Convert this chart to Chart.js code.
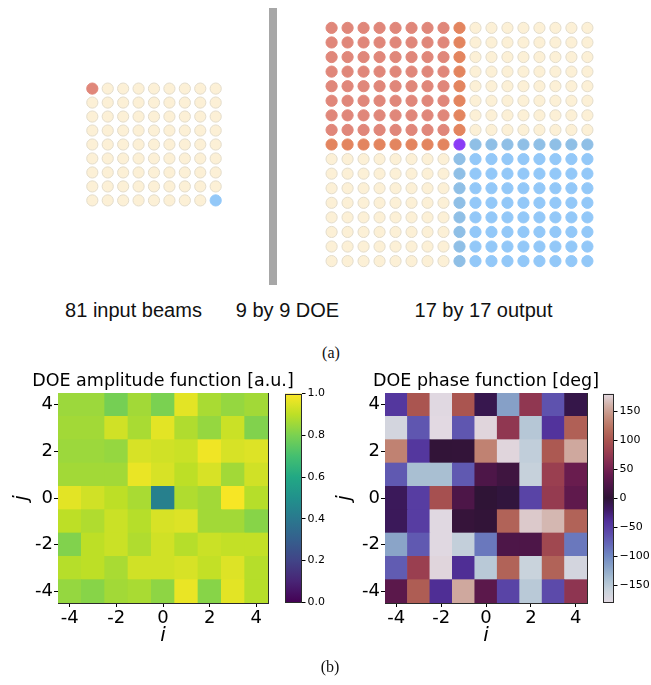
<!DOCTYPE html>
<html>
<head>
<meta charset="utf-8">
<script src="https://cdn.jsdelivr.net/npm/chart.js@4.4.1/dist/chart.umd.min.js"></script>
<style>
  html, body { margin: 0; padding: 0; background: #fff; }
  #fig { position: relative; width: 651px; height: 685px; overflow: hidden; background: #fff; }
  #fig canvas { position: absolute; }
  .lbl { position: absolute; font-family: 'Liberation Sans', Arial, sans-serif; font-size: 20px; line-height: 20px;
         color: #111; white-space: nowrap; transform: translateX(-50%); }
  .cap { position: absolute; font-family: 'Liberation Serif', 'Times New Roman', serif; font-size: 16px; line-height: 16px;
         color: #111; white-space: nowrap; transform: translateX(-50%); }
  .doe { position: absolute; left: 269px; top: 8px; width: 8px; height: 277px; background: #a7a7a7; }
</style>
</head>
<body>
<div id="fig">
  <canvas id="gridIn" width="152" height="139" style="left:78px;top:75px"></canvas>
  <div class="doe"></div>
  <canvas id="gridOut" width="285" height="261" style="left:317px;top:14px"></canvas>
  <div class="lbl" style="left:133.5px;top:300px">81 input beams</div>
  <div class="lbl" style="left:287.5px;top:300px">9 by 9 DOE</div>
  <div class="lbl" style="left:483.5px;top:300px">17 by 17 output</div>
  <div class="cap" style="left:331px;top:345px">(a)</div>

  <canvas id="ampMap" width="326" height="283" style="left:0px;top:365px"></canvas>
  <canvas id="ampBar" width="57" height="226" style="left:285px;top:385px"></canvas>
  <canvas id="phaseMap" width="318" height="283" style="left:327px;top:365px"></canvas>
  <canvas id="phaseBar" width="51" height="226" style="left:603px;top:385px"></canvas>
  <div class="cap" style="left:330px;top:659px">(b)</div>
</div>

<script>
// ---- beam grids: one letter per beam ----
// C = unused spot, R = red input copies, O = red edge copies, B = blue copies,
// E = blue edge copies, P = overlap of both
const INPUT_GRID = [
  'RCCCCCCCC',
  'CCCCCCCCC',
  'CCCCCCCCC',
  'CCCCCCCCC',
  'CCCCCCCCC',
  'CCCCCCCCC',
  'CCCCCCCCC',
  'CCCCCCCCC',
  'CCCCCCCCB'
];
const OUTPUT_GRID = [
  'RRRRRRRROCCCCCCCC',
  'RRRRRRRROCCCCCCCC',
  'RRRRRRRROCCCCCCCC',
  'RRRRRRRROCCCCCCCC',
  'RRRRRRRROCCCCCCCC',
  'RRRRRRRROCCCCCCCC',
  'RRRRRRRROCCCCCCCC',
  'RRRRRRRROCCCCCCCC',
  'OOOOOOOOPEEEEEEEE',
  'CCCCCCCCEBBBBBBBB',
  'CCCCCCCCEBBBBBBBB',
  'CCCCCCCCEBBBBBBBB',
  'CCCCCCCCEBBBBBBBB',
  'CCCCCCCCEBBBBBBBB',
  'CCCCCCCCEBBBBBBBB',
  'CCCCCCCCEBBBBBBBB',
  'CCCCCCCCEBBBBBBBB'
];
const BEAM_FILL   = { C: '#fcf0d6', R: '#e0877a', O: '#e3855f', B: '#93c8f8', E: '#8fbfe6', P: '#8a3cf6' };
const BEAM_BORDER = { C: '#e3dccb', R: '#e0877a', O: '#e3855f', B: '#93c8f8', E: '#8fbfe6', P: '#8a3cf6' };

// ---- DOE maps: rows from j = 4 (top) down to j = -4, columns i = -4 .. 4 ----
const I_VALUES = [-4, -3, -2, -1, 0, 1, 2, 3, 4];
const J_VALUES = [4, 3, 2, 1, 0, -1, -2, -3, -4];
const AXIS_TICKS = [-4, -2, 0, 2, 4];

const AMPLITUDE = [
  [0.85, 0.85, 0.79, 0.86, 0.80, 0.96, 0.87, 0.84, 0.86],
  [0.86, 0.86, 0.93, 0.87, 0.96, 0.88, 0.84, 0.92, 0.81],
  [0.85, 0.85, 0.84, 0.94, 0.93, 0.92, 0.98, 0.94, 0.95],
  [0.86, 0.86, 0.86, 0.97, 0.94, 0.90, 0.94, 0.86, 0.93],
  [0.96, 0.93, 0.90, 0.87, 0.43, 0.88, 0.86, 0.99, 0.89],
  [0.90, 0.88, 0.92, 0.89, 0.94, 0.95, 0.86, 0.86, 0.82],
  [0.81, 0.90, 0.92, 0.88, 0.93, 0.89, 0.92, 0.91, 0.91],
  [0.89, 0.90, 0.87, 0.93, 0.93, 0.94, 0.91, 0.95, 0.89],
  [0.84, 0.82, 0.86, 0.87, 0.83, 0.97, 0.82, 0.96, 0.89]
];
const PHASE = [
  [ -45,  100, -178,  100,  -10, -117,   72,  -65,   -8],
  [-168,  -68,  180,  -68,  178,   72, -148,  -42,  108],
  [ 132,  -45,    2,    3,  132,  178, -155,  103,  155],
  [ -70, -140, -140,  -70,   22,   12, -158,   80,   42],
  [ -15,  -50,   95,   22,    0,   -3,  -55,   76,   35],
  [ -15,  -50, -178,    5,    2,  110,  172,  163,  110],
  [-120,  -70, -178, -156,  -90,   22,   22,   88,  -90],
  [ -72,   80,  178,  -38, -150,  110, -160,  110, -168],
  [  32,  106,  -38,  155,   32,  -55, -150,  -60,   70]
];
const AMP_RANGE = [0, 1];
const PHASE_RANGE = [-180, 180];
const AMP_CB_TICKS = [0, 0.2, 0.4, 0.6, 0.8, 1.0];
const PHASE_CB_TICKS = [-150, -100, -50, 0, 50, 100, 150];

// ---- colour maps (evenly spaced stops across each range) ----
const VIRIDIS = ['#440154', '#482475', '#414487', '#355f8d', '#2a788e', '#21918c',
                 '#22a884', '#44bf70', '#7ad151', '#bddf26', '#fde725'];
// cyclic map, one stop every 20 degrees from -180 to 180
const TWILIGHT = ['#e2d9e2', '#c9d3dc', '#a9bfd2', '#8aa4c8', '#7088c2', '#6468b8', '#5c4aaa',
                  '#51309a', '#3f1a66', '#2f1436', '#4a1547', '#661a4e', '#822b52', '#9a3f50',
                  '#aa5550', '#b8705f', '#c58e7e', '#d2b1a8', '#e2d9e2'];

function hexToRgb(h) {
  const n = parseInt(h.slice(1), 16);
  return [(n >> 16) & 255, (n >> 8) & 255, n & 255];
}
function makeCmap(stops, lo, hi) {
  const rgb = stops.map(hexToRgb);
  return v => {
    let t = (v - lo) / (hi - lo);
    t = Math.max(0, Math.min(1, t)) * (rgb.length - 1);
    const k = Math.min(rgb.length - 2, Math.floor(t));
    const f = t - k;
    const c = rgb[k].map((a, m) => Math.round(a + (rgb[k + 1][m] - a) * f));
    return `rgb(${c[0]},${c[1]},${c[2]})`;
  };
}

Chart.defaults.font.family = "'DejaVu Sans', sans-serif";
Chart.defaults.color = '#000';

// ---- beam grid scatter charts ----
function beamChart(id, grid) {
  const n = grid.length;
  const pts = [], fills = [], borders = [];
  grid.forEach((row, r) => [...row].forEach((ch, c) => {
    pts.push({ x: c, y: r });
    fills.push(BEAM_FILL[ch]);
    borders.push(BEAM_BORDER[ch]);
  }));
  new Chart(document.getElementById(id), {
    type: 'scatter',
    data: { datasets: [{ data: pts, backgroundColor: fills, borderColor: borders,
                         pointRadius: 5.6, borderWidth: 1, pointStyle: 'circle' }] },
    options: {
      responsive: false, animation: false, events: [], devicePixelRatio: 1,
      layout: { padding: 0 },
      plugins: { legend: { display: false }, tooltip: { enabled: false } },
      scales: {
        x: { type: 'linear', display: false, min: -0.5, max: n - 0.5 },
        y: { type: 'linear', display: false, min: -0.5, max: n - 0.5, reverse: true }
      }
    }
  });
}
beamChart('gridIn', INPUT_GRID);
beamChart('gridOut', OUTPUT_GRID);

// ---- heat maps drawn as floating bars on linear axes ----
function setTicks(values) {
  return s => { s.ticks = values.map(v => ({ value: v })); };
}
function heatChart(id, title, values, cmap, yTitlePad) {
  const cells = [], colors = [];
  values.forEach((row, r) => row.forEach((v, c) => {
    cells.push({ x: I_VALUES[c], y: [J_VALUES[r] - 0.5, J_VALUES[r] + 0.5] });
    colors.push(cmap(v));
  }));
  const frame = '#2b2b2b';
  const tickFont = { family: "'DejaVu Sans', sans-serif", size: 18 };
  const labFont = { family: "'DejaVu Sans', sans-serif", size: 20, style: 'italic' };
  new Chart(document.getElementById(id), {
    type: 'bar',
    data: { datasets: [{ data: cells, backgroundColor: colors, borderWidth: 0,
                         barPercentage: 1, categoryPercentage: 1 }] },
    options: {
      responsive: false, animation: false, events: [], devicePixelRatio: 1,
      layout: { padding: 0 },
      plugins: {
        legend: { display: false }, tooltip: { enabled: false },
        title: { display: true, text: title, color: '#000',
                 font: { family: "'DejaVu Sans', sans-serif", size: 17.5, weight: 'normal' },
                 padding: { top: 6, bottom: 0 } }
      },
      scales: {
        x: {
          type: 'linear', position: 'bottom', min: -4.5, max: 4.5, offset: false,
          afterBuildTicks: setTicks(AXIS_TICKS),
          afterFit: s => { s.height = 45; },
          ticks: { font: tickFont, color: '#000', padding: 1, maxRotation: 0, autoSkip: false },
          grid: { drawOnChartArea: false, drawTicks: true, tickLength: 4, tickColor: '#000', offset: false },
          border: { display: true, color: frame, width: 1 },
          title: { display: true, text: 'i', font: labFont, color: '#000', padding: { top: 0, bottom: 0 } }
        },
        y: {
          type: 'linear', position: 'left', min: -4.5, max: 4.5,
          afterBuildTicks: setTicks(AXIS_TICKS),
          afterFit: s => { s.width = 58; },
          ticks: { font: tickFont, color: '#000', padding: 1, autoSkip: false },
          grid: { drawOnChartArea: false, drawTicks: true, tickLength: 4, tickColor: '#000' },
          border: { display: true, color: frame, width: 1 },
          title: { display: true, text: 'j', font: labFont, color: '#000', padding: { top: yTitlePad, bottom: 0 } }
        },
        xTop: {
          type: 'linear', position: 'top', min: -4.5, max: 4.5,
          afterFit: s => { s.height = 1; },
          ticks: { display: false }, grid: { display: false, drawTicks: false },
          border: { display: true, color: frame, width: 1 }
        },
        yRight: {
          type: 'linear', position: 'right', min: -4.5, max: 4.5,
          afterFit: s => { s.width = 58; },
          ticks: { display: false }, grid: { display: false, drawTicks: false },
          border: { display: true, color: frame, width: 1 }
        }
      }
    }
  });
}

// ---- colour bars: gradient painted along the bar's own value axis ----
function colorBar(id, stops, range, ticks, fmt, fontFamily) {
  new Chart(document.getElementById(id), {
    type: 'scatter',
    data: { datasets: [] },
    options: {
      responsive: false, animation: false, events: [], devicePixelRatio: 1,
      layout: { padding: { top: 8, bottom: 8, left: 0, right: 0 } },
      plugins: { legend: { display: false }, tooltip: { enabled: false } },
      scales: {
        x: { type: 'linear', display: false, min: 0, max: 1 },
        y: {
          type: 'linear', position: 'right', min: range[0], max: range[1],
          afterBuildTicks: setTicks(ticks),
          afterFit: s => { s.width = 40; },
          ticks: { font: { family: fontFamily, size: 11 }, color: '#000', padding: 2, callback: fmt },
          grid: { drawOnChartArea: false, drawTicks: true, tickLength: 3.5, tickColor: '#000' },
          border: { display: false }
        }
      }
    },
    plugins: [{
      id: 'gradientBar',
      beforeDatasetsDraw(chart) {
        const { ctx, chartArea: a, scales: { y } } = chart;
        const g = ctx.createLinearGradient(0, y.getPixelForValue(range[0]), 0, y.getPixelForValue(range[1]));
        stops.forEach((c, k) => g.addColorStop(k / (stops.length - 1), c));
        ctx.save();
        ctx.fillStyle = g;
        ctx.fillRect(a.left, a.top, a.right - a.left, a.bottom - a.top);
        ctx.restore();
      },
      afterDraw(chart) {
        const { ctx, chartArea: a } = chart;
        ctx.save();
        ctx.strokeStyle = '#2b2b2b';
        ctx.lineWidth = 1;
        ctx.strokeRect(Math.round(a.left) + 0.5, Math.round(a.top) + 0.5,
                       Math.round(a.right - a.left) - 1, Math.round(a.bottom - a.top) - 1);
        ctx.restore();
      }
    }]
  });
}

const viridis = makeCmap(VIRIDIS, AMP_RANGE[0], AMP_RANGE[1]);
const twilight = makeCmap(TWILIGHT, PHASE_RANGE[0], PHASE_RANGE[1]);

heatChart('ampMap', 'DOE amplitude function [a.u.]', AMPLITUDE, viridis, 10);
heatChart('phaseMap', 'DOE phase function [deg]', PHASE, twilight, 6);
colorBar('ampBar', VIRIDIS, AMP_RANGE, AMP_CB_TICKS, v => v.toFixed(1), "'DejaVu Sans', sans-serif");
colorBar('phaseBar', TWILIGHT, PHASE_RANGE, PHASE_CB_TICKS,
         v => (v < 0 ? '\u2212' + Math.abs(v) : String(v)), "'Liberation Sans Narrow', 'DejaVu Sans', sans-serif");
</script>
</body>
</html>
